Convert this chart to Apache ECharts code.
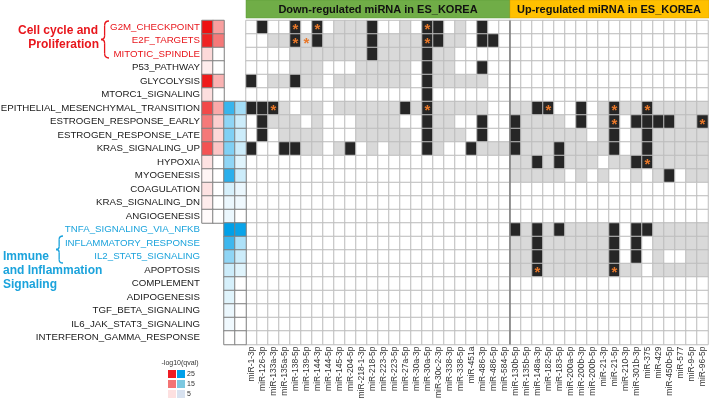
<!DOCTYPE html>
<html><head><meta charset="utf-8">
<script src="https://cdn.jsdelivr.net/npm/echarts@6/dist/echarts.min.js"></script>
<style>html,body{margin:0;padding:0;background:#fff}#c{width:709px;height:400px}</style>
</head><body><div id="c"></div>
<script>
const pathways = ['G2M_CHECKPOINT','E2F_TARGETS','MITOTIC_SPINDLE','P53_PATHWAY','GLYCOLYSIS','MTORC1_SIGNALING',
 'EPITHELIAL_MESENCHYMAL_TRANSITION','ESTROGEN_RESPONSE_EARLY','ESTROGEN_RESPONSE_LATE','KRAS_SIGNALING_UP','HYPOXIA',
 'MYOGENESIS','COAGULATION','KRAS_SIGNALING_DN','ANGIOGENESIS','TNFA_SIGNALING_VIA_NFKB','INFLAMMATORY_RESPONSE',
 'IL2_STAT5_SIGNALING','APOPTOSIS','COMPLEMENT','ADIPOGENESIS','TGF_BETA_SIGNALING','IL6_JAK_STAT3_SIGNALING','INTERFERON_GAMMA_RESPONSE'];
const downMiRNA = ['miR-1-3p','miR-126-3p','miR-133a-3p','miR-135a-5p','miR-138-5p','miR-139-5p','miR-144-3p','miR-144-5p',
 'miR-145-3p','miR-204-5p','miR-218-1-3p','miR-218-5p','miR-223-3p','miR-223-5p','miR-27a-5p','miR-30a-3p','miR-30a-5p',
 'miR-30c-2-3p','miR-338-3p','miR-338-5p','miR-451a','miR-486-3p','miR-486-5p','miR-584-5p'];
const upMiRNA = ['miR-130b-5p','miR-135b-5p','miR-148a-3p','miR-182-5p','miR-183-5p','miR-200a-5p','miR-200b-3p','miR-200b-5p',
 'miR-21-3p','miR-21-5p','miR-210-3p','miR-301b-3p','miR-375','miR-429','miR-450b-5p','miR-577','miR-9-5p','miR-96-5p'];
const qCols = ['q_down_1','q_down_2','q_up_1','q_up_2'];
// -log10(qval) enrichment values (red: down-regulated set, blue: up-regulated set)
const redQ1 = [27,23,4,2,24,3.5,19,14,14,18,3,1,3,2,0.5,null,null,null,null,null,null,null,null,null];
const redQ2 = [10,14,0,0,8,0,9,5,4,6,0,0,0,0,0,null,null,null,null,null,null,null,null,null];
const blueQ1 = [null,null,null,null,null,null,19.5,11,12.5,12.5,11,21,4,2,2,25,19,11,5,4,3,2,1.5,0];
const blueQ2 = [null,null,null,null,null,null,9,5,5,5,3,5,2,1.5,0,24,8,5,3,0,0,0,0,0];
// cell status: 0 none, 1 predicted target (grey), 2 validated (black), 3 validated + significant (*), 4 grey + *
const downStatus = [
 [0,2,0,0,3,0,3,0,1,1,1,2,0,0,1,0,3,2,0,1,0,2,0,0],
 [0,0,1,1,3,4,2,1,1,1,1,2,1,1,1,1,3,2,1,1,0,2,2,0],
 [0,0,0,0,1,1,1,1,1,1,1,2,1,1,1,1,2,1,1,0,0,0,0,0],
 [0,0,0,0,1,1,1,0,0,0,1,1,1,1,1,0,2,1,1,0,0,2,0,0],
 [2,0,1,1,2,1,1,0,1,1,1,1,1,1,1,0,2,1,1,1,1,1,0,0],
 [0,0,0,0,0,0,0,0,0,0,0,0,0,0,0,0,2,0,0,0,0,0,0,0],
 [2,2,3,1,0,1,1,0,1,1,1,1,1,1,2,1,3,1,1,1,1,1,0,0],
 [0,2,1,1,1,0,1,0,0,0,1,1,1,1,0,0,2,1,1,0,0,2,0,0],
 [0,2,0,1,1,1,1,0,0,0,1,1,1,1,1,0,2,1,1,1,0,2,0,0],
 [2,0,0,2,2,1,1,0,1,2,0,1,0,1,1,0,2,1,0,0,2,1,1,1],
 [0,0,0,0,0,0,0,0,0,0,0,0,0,0,0,0,0,0,0,0,0,0,0,0],
 [0,0,0,0,0,0,0,0,0,0,0,0,0,0,0,0,0,0,0,0,0,0,0,0],
 [0,0,0,0,0,0,0,0,0,0,0,0,0,0,0,0,0,0,0,0,0,0,0,0],
 [0,0,0,0,0,0,0,0,0,0,0,0,0,0,0,0,0,0,0,0,0,0,0,0],
 [0,0,0,0,0,0,0,0,0,0,0,0,0,0,0,0,0,0,0,0,0,0,0,0],
 [0,0,0,0,0,0,0,0,0,0,0,0,0,0,0,0,0,0,0,0,0,0,0,0],
 [0,0,0,0,0,0,0,0,0,0,0,0,0,0,0,0,0,0,0,0,0,0,0,0],
 [0,0,0,0,0,0,0,0,0,0,0,0,0,0,0,0,0,0,0,0,0,0,0,0],
 [0,0,0,0,0,0,0,0,0,0,0,0,0,0,0,0,0,0,0,0,0,0,0,0],
 [0,0,0,0,0,0,0,0,0,0,0,0,0,0,0,0,0,0,0,0,0,0,0,0],
 [0,0,0,0,0,0,0,0,0,0,0,0,0,0,0,0,0,0,0,0,0,0,0,0],
 [0,0,0,0,0,0,0,0,0,0,0,0,0,0,0,0,0,0,0,0,0,0,0,0],
 [0,0,0,0,0,0,0,0,0,0,0,0,0,0,0,0,0,0,0,0,0,0,0,0],
 [0,0,0,0,0,0,0,0,0,0,0,0,0,0,0,0,0,0,0,0,0,0,0,0]
];
const upStatus = [
 [0,0,0,0,0,0,0,0,0,0,0,0,0,0,0,0,0,0],
 [0,0,0,0,0,0,0,0,0,0,0,0,0,0,0,0,0,0],
 [0,0,0,0,0,0,0,0,0,0,0,0,0,0,0,0,0,0],
 [0,0,0,0,0,0,0,0,0,0,0,0,0,0,0,0,0,0],
 [0,0,0,0,0,0,0,0,0,0,0,0,0,0,0,0,0,0],
 [0,0,0,0,0,0,0,0,0,0,0,0,0,0,0,0,0,0],
 [1,1,2,3,0,0,2,0,1,3,1,1,3,1,1,1,1,1],
 [2,1,1,1,1,0,2,0,1,3,0,2,2,2,2,1,1,3],
 [2,1,1,1,1,1,1,0,1,2,0,1,2,1,1,1,1,1],
 [2,1,1,1,2,1,1,1,1,2,0,1,2,1,1,1,1,1],
 [1,1,2,1,2,1,1,1,0,1,1,2,3,1,1,1,1,1],
 [1,1,1,1,1,0,1,0,1,0,0,1,0,1,2,0,1,1],
 [0,0,0,0,0,0,0,0,0,0,0,0,0,0,0,0,0,0],
 [0,0,0,0,0,0,0,0,0,0,0,0,0,0,0,0,0,0],
 [0,0,0,0,0,0,0,0,0,0,0,0,0,0,0,0,0,0],
 [2,1,2,1,2,1,1,1,1,2,0,2,2,1,1,1,1,1],
 [1,1,2,1,1,1,1,1,1,2,0,2,0,1,1,1,1,1],
 [1,1,2,1,1,1,1,1,1,2,0,2,0,1,0,0,1,1],
 [1,1,3,1,1,1,1,1,1,3,1,1,0,1,1,1,1,1],
 [0,0,0,0,0,0,0,0,0,0,0,0,0,0,0,0,0,0],
 [0,0,0,0,0,0,0,0,0,0,0,0,0,0,0,0,0,0],
 [0,0,0,0,0,0,0,0,0,0,0,0,0,0,0,0,0,0],
 [0,0,0,0,0,0,0,0,0,0,0,0,0,0,0,0,0,0],
 [0,0,0,0,0,0,0,0,0,0,0,0,0,0,0,0,0,0]
];
const legendTicks = [25, 15, 5];

const RED = '#e8161c', CYAN = '#1ba3dc';
const xCats = qCols.concat(downMiRNA, upMiRNA);
const gridData = [], redData = [], blueData = [];
pathways.forEach((p, r) => {
  downStatus[r].forEach((s, c) => gridData.push([downMiRNA[c], p, s]));
  upStatus[r].forEach((s, c) => gridData.push([upMiRNA[c], p, s]));
  if (redQ1[r] != null) redData.push([qCols[0], p, redQ1[r]]);
  if (redQ2[r] != null) redData.push([qCols[1], p, redQ2[r]]);
  if (blueQ1[r] != null) blueData.push([qCols[2], p, blueQ1[r]]);
  if (blueQ2[r] != null) blueData.push([qCols[3], p, blueQ2[r]]);
});

const chart = echarts.init(document.getElementById('c'), null, {renderer: 'canvas'});
const FONT = '"Liberation Sans", Arial, sans-serif';
chart.setOption({
  animation: false,
  textStyle: {fontFamily: FONT},
  grid: {left: 202, top: 20.5, width: 506, height: 324, containLabel: false, outerBoundsMode: 'none'},
  xAxis: {type: 'category', data: xCats, position: 'bottom',
    axisLine: {show: false}, axisTick: {show: false}, splitLine: {show: false},
    axisLabel: {interval: 0, rotate: 90, margin: 2, fontSize: 8.5, color: '#333', fontFamily: FONT,
      formatter: v => qCols.indexOf(v) >= 0 ? '' : v}},
  yAxis: {type: 'category', data: pathways, inverse: true,
    axisLine: {show: false}, axisTick: {show: false}, splitLine: {show: false},
    axisLabel: {interval: 0, margin: 2, fontSize: 9.7, color: '#1a1a1a', fontFamily: FONT,
      formatter: (v, i) => i < 3 ? '{r|' + v + '}' : (i >= 15 && i <= 17 ? '{b|' + v + '}' : v),
      rich: {r: {color: RED, fontSize: 9.7, fontFamily: FONT}, b: {color: CYAN, fontSize: 9.7, fontFamily: FONT}}}},
  visualMap: [
    {type: 'piecewise', show: false, seriesIndex: 0, dimension: 2,
      pieces: [{value: 0, color: '#ffffff'}, {value: 1, color: '#d9d9d9'}, {value: 2, color: '#262626'},
               {value: 3, color: '#262626'}, {value: 4, color: '#d9d9d9'}]},
    {type: 'continuous', show: false, seriesIndex: 1, dimension: 2, min: 0, max: 25, inRange: {color: ['#ffffff', '#ee1010']}},
    {type: 'continuous', show: false, seriesIndex: 2, dimension: 2, min: 0, max: 25, inRange: {color: ['#ffffff', '#00a0e8']}}
  ],
  series: [
    {type: 'heatmap', data: gridData, itemStyle: {borderColor: '#bdbdbd', borderWidth: 1},
      label: {show: true, formatter: p => (p.value[2] >= 3 ? '*' : ''), color: '#e8782a', fontSize: 15,
        fontWeight: 'bold', offset: [0, 3], fontFamily: FONT},
      emphasis: {disabled: true}},
    {type: 'heatmap', data: redData, itemStyle: {borderColor: '#7f7f7f', borderWidth: 1}, emphasis: {disabled: true}},
    {type: 'heatmap', data: blueData, itemStyle: {borderColor: '#7f7f7f', borderWidth: 1}, emphasis: {disabled: true}}
  ]
});

function brace(x, y, w, h, color) {
  const m = x + w * 0.45, s = {stroke: color, fill: null, lineWidth: 1.3};
  const bc = (x1, y1, cx, cy, x2, y2) => ({type: 'bezierCurve', shape: {x1, y1, cpx1: cx, cpy1: cy, x2, y2}, style: s});
  const ln = (x1, y1, x2, y2) => ({type: 'line', shape: {x1, y1, x2, y2}, style: s});
  return [
    bc(x + w, y, m, y, m, y + h * 0.12),
    ln(m, y + h * 0.12, m, y + h * 0.4),
    bc(m, y + h * 0.4, m, y + h / 2, x, y + h / 2),
    bc(x, y + h / 2, m, y + h / 2, m, y + h * 0.6),
    ln(m, y + h * 0.6, m, y + h * 0.88),
    bc(m, y + h * 0.88, m, y + h, x + w, y + h)
  ];
}

function decorate() {
  const px = c => chart.convertToPixel({xAxisIndex: 0}, c);
  const band = px(xCats[1]) - px(xCats[0]);
  const downStart = px(downMiRNA[0]) - band / 2;
  const upStart = px(upMiRNA[0]) - band / 2;
  const upEnd = px(upMiRNA[upMiRNA.length - 1]) + band / 2;
  const top = chart.convertToPixel({yAxisIndex: 0}, pathways[0]);
  const rowH = chart.convertToPixel({yAxisIndex: 0}, pathways[1]) - top;
  const gridTop = top - rowH / 2, gridBottom = gridTop + rowH * pathways.length;
  let els = [
    {type: 'rect', shape: {x: downStart, y: 0, width: upStart - downStart, height: 18},
      style: {fill: '#70ad47', stroke: '#5b9a36', lineWidth: 0.5}},
    {type: 'text', x: (downStart + upStart) / 2, y: 9.5,
      style: {text: 'Down-regulated miRNA in ES_KOREA', font: 'bold 11px ' + FONT, fill: '#111', align: 'center', verticalAlign: 'middle'}},
    {type: 'rect', shape: {x: upStart, y: 0, width: upEnd - upStart + 1, height: 18},
      style: {fill: '#ffc000', stroke: '#d9a300', lineWidth: 0.5}},
    {type: 'text', x: (upStart + upEnd) / 2, y: 9.5,
      style: {text: 'Up-regulated miRNA in ES_KOREA', font: 'bold 11px ' + FONT, fill: '#111', align: 'center', verticalAlign: 'middle'}},
    {type: 'line', shape: {x1: upStart, y1: gridTop, x2: upStart, y2: gridBottom}, style: {stroke: '#7a7a7a', lineWidth: 1.5}, z: 10},
    {type: 'text', x: 98, y: 31, style: {text: 'Cell cycle and', font: 'bold 12px ' + FONT, fill: RED, align: 'right', verticalAlign: 'middle'}},
    {type: 'text', x: 99, y: 45, style: {text: 'Proliferation', font: 'bold 12px ' + FONT, fill: RED, align: 'right', verticalAlign: 'middle'}},
    {type: 'text', x: 3, y: 257, style: {text: 'Immune', font: 'bold 12px ' + FONT, fill: CYAN, align: 'left', verticalAlign: 'middle'}},
    {type: 'text', x: 3, y: 271, style: {text: 'and Inflammation', font: 'bold 12px ' + FONT, fill: CYAN, align: 'left', verticalAlign: 'middle'}},
    {type: 'text', x: 3, y: 285, style: {text: 'Signaling', font: 'bold 12px ' + FONT, fill: CYAN, align: 'left', verticalAlign: 'middle'}},
    {type: 'text', x: 180, y: 363, style: {text: '-log10(qval)', font: '7px ' + FONT, fill: '#333', align: 'center', verticalAlign: 'middle'}}
  ];
  els = els.concat(brace(101, 21, 8, 37, RED), brace(56, 236, 7, 27, CYAN));
  const redScale = ['#ee1c24', '#f37474', '#fde0e0'];
  const blueScale = ['#00a0e9', '#7cc8e0', '#d8e2f0'];
  legendTicks.forEach((t, i) => {
    const y = 370 + i * 10;
    els.push({type: 'rect', shape: {x: 168, y, width: 8, height: 8}, style: {fill: redScale[i]}});
    els.push({type: 'rect', shape: {x: 177, y, width: 8, height: 8}, style: {fill: blueScale[i]}});
    els.push({type: 'text', x: 187, y: y + 4, style: {text: String(t), font: '7px ' + FONT, fill: '#333', align: 'left', verticalAlign: 'middle'}});
  });
  chart.setOption({graphic: {elements: els}});
}
decorate();
</script>
</body></html>
